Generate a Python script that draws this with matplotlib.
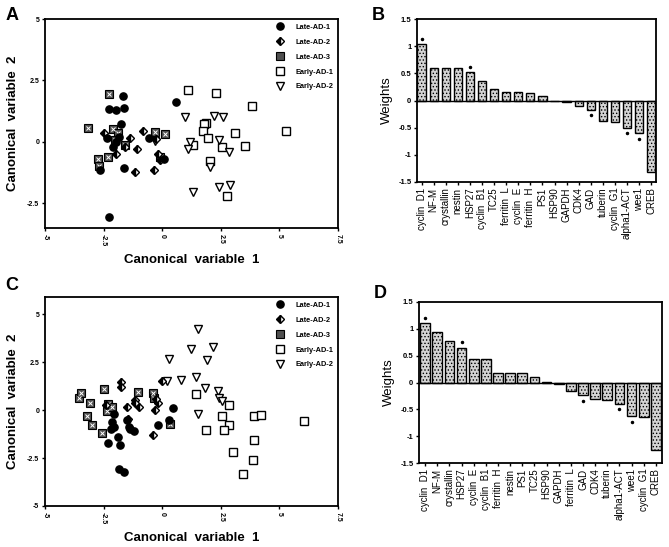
import numpy as np
import matplotlib
matplotlib.use("Agg")
import matplotlib.pyplot as plt

plt.rcParams['font.family'] = ['Liberation Sans', 'DejaVu Sans']

########### data: panel A ############
a_late1_x = [-1.69, -2.27, -1.99, -1.62, -1.77, -2.34, -1.99, -2.67, -1.62, -2.27, -0.57, 0.09, 0.61, -2.10, -1.85]
a_late1_y = [1.87, 1.34, 1.31, 1.39, 0.75, 0.14, 0.00, -1.16, -1.07, -3.05, 0.18, -0.68, 1.64, -0.20, 0.20]
a_late2_x = [-2.49, -0.81, -1.38, -1.59, -1.09, -1.95, -1.16, -0.36, -0.17, -0.10, -0.28]
a_late2_y = [0.37, 0.44, 0.18, -0.20, -0.27, -0.51, -1.22, -1.13, -0.51, -0.75, 0.10]
a_late3_x = [-2.26, -3.15, -2.09, -1.88, -0.31, 0.11, -2.02, -1.59, -2.30, -2.73, -2.68, -0.10]
a_late3_y = [1.95, 0.57, 0.51, 0.37, 0.41, 0.31, 0.07, -0.14, -0.61, -0.68, -0.96, -0.61]
a_early1_x = [1.08, 2.29, 3.85, 5.30, 1.86, 1.79, 1.75, 1.96, 1.32, 3.10, 2.53, 3.52, 2.03, 2.78]
a_early1_y = [2.12, 2.01, 1.46, 0.45, 0.79, 0.71, 0.44, 0.16, -0.14, 0.38, -0.20, -0.18, -0.78, -2.19]
a_early2_x = [0.97, 2.20, 2.60, 1.18, 1.11, 2.41, 2.86, 2.03, 1.32, 2.43, 2.91, -0.30]
a_early2_y = [1.02, 1.05, 1.02, 0.00, -0.30, 0.07, -0.41, -1.02, -2.02, -1.82, -1.75, 0.02]

########### data: panel C ############
c_late1_x = [-2.07, -2.14, -2.07, -2.19, -1.89, -2.31, -1.79, -1.50, -1.43, -1.36, -1.21, -1.86, -1.64, -0.19, 0.29, 0.47]
c_late1_y = [-0.18, -0.61, -0.88, -0.96, -1.40, -1.70, -1.84, -0.53, -0.88, -0.96, -1.11, -3.07, -3.21, -0.75, -0.53, 0.12]
c_late2_x = [-1.74, -1.76, -2.40, -1.50, -1.46, -1.17, -1.14, -1.00, -0.40, -0.29, -0.20, 0.00, -0.25]
c_late2_y = [1.49, 1.23, 0.26, 0.18, -0.44, 0.53, 0.39, 0.18, -1.32, 0.00, 0.39, 1.53, 0.60]
c_late3_x = [-3.57, -3.46, -3.07, -3.20, -3.00, -2.50, -2.31, -2.36, -2.14, -2.57, -1.03, -0.40, 0.33, -0.36]
c_late3_y = [0.65, 0.88, 0.39, -0.30, -0.75, 1.09, 0.30, -0.05, 0.14, -1.18, 0.96, 0.88, -0.70, 0.61]
c_early1_x = [1.43, 2.86, 2.57, 2.86, 2.64, 1.86, 3.93, 4.21, 6.07, 3.93, 3.04, 3.86, 3.43]
c_early1_y = [0.84, 0.26, -0.32, -0.79, -1.05, -1.02, -0.32, -0.23, -0.58, -1.58, -2.19, -2.58, -3.33]
c_early2_x = [1.53, 1.21, 2.16, 1.89, 0.31, 0.79, 0.19, 1.43, 1.81, 2.36, 2.43, 2.54, 1.53, -0.40]
c_early2_y = [4.21, 3.21, 3.30, 2.63, 2.67, 1.58, 1.53, 1.72, 1.18, 1.00, 0.61, 0.47, -0.21, 0.75]

########### data: panels B, D ############
b_genes = ['cyclin  D1', 'NF-M', 'crystallin', 'nestin', 'HSP27', 'cyclin  B1', 'TC25',
           'ferritin  L', 'cyclin  E', 'ferritin  H', 'PS1', 'HSP90', 'GAPDH', 'CDK4', 'GAD',
           'tuberin', 'cyclin  G1', 'alpha1-ACT', 'wee1', 'CREB']
b_weights = [1.04, 0.59, 0.59, 0.59, 0.52, 0.35, 0.22, 0.15, 0.15, 0.13, 0.09, -0.01, -0.02,
             -0.11, -0.17, -0.38, -0.39, -0.50, -0.60, -1.32]
b_signif = ['cyclin  D1', 'HSP27', 'GAD', 'alpha1-ACT', 'wee1']

d_genes = ['cyclin  D1', 'NF-M', 'crystallin', 'HSP27', 'cyclin  E', 'cyclin  B1', 'ferritin  H',
           'nestin', 'PS1', 'TC25', 'HSP90', 'GAPDH', 'ferritin  L', 'GAD', 'CDK4', 'tuberin',
           'alpha1-ACT', 'wee1', 'cyclin  G1', 'CREB']
d_weights = [1.11, 0.95, 0.77, 0.65, 0.44, 0.43, 0.18, 0.18, 0.17, 0.10, 0.005, -0.02, -0.15,
             -0.24, -0.31, -0.33, -0.40, -0.63, -0.64, -1.25]
d_signif = ['cyclin  D1', 'HSP27', 'GAD', 'alpha1-ACT', 'wee1']

groups = ['Late-AD-1', 'Late-AD-2', 'Late-AD-3', 'Early-AD-1', 'Early-AD-2']


def scatter_panel(ax, data, ylim, yticks):
    ms = 5.2
    (x1, y1), (x2, y2), (x3, y3), (x4, y4), (x5, y5) = data
    ax.plot(x4, y4, 's', ms=ms, mfc='white', mec='black', mew=1.0, ls='none', label=groups[3])
    ax.plot(x5, y5, 'v', ms=ms + 0.6, mfc='white', mec='black', mew=1.0, ls='none', label=groups[4])
    ax.plot(x3, y3, 's', ms=ms, mfc='#505050', mec='black', mew=0.8, ls='none', label=groups[2])
    ax.plot(x3, y3, 'x', ms=2.6, mec='white', mew=0.7, ls='none')
    ax.plot(x2, y2, 'D', ms=ms - 0.8, fillstyle='left', mfc='black', mfcalt='white',
            mec='black', mew=1.0, ls='none', label=groups[1])
    ax.plot(x1, y1, 'o', ms=ms, mfc='black', mec='black', ls='none', label=groups[0])
    ax.set_xlim(-5, 7.5)
    ax.set_ylim(*ylim)
    ax.set_xticks([-5, -2.5, 0, 2.5, 5, 7.5])
    ax.set_xticklabels(['-5', '-2.5', '0', '2.5', '5', '7.5'], rotation=270, fontsize=5, fontweight='bold')
    ax.set_yticks(yticks)
    ax.set_yticklabels([('%g' % t) for t in yticks], fontsize=5, fontweight='bold')
    ax.tick_params(length=2, width=1, pad=2)
    for s in ax.spines.values():
        s.set_linewidth(1.3)
    ax.set_xlabel('Canonical  variable  1', fontsize=9.5, fontweight='bold', labelpad=6)
    ax.set_ylabel('Canonical  variable  2', fontsize=9.5, fontweight='bold', labelpad=6)
    h, l = ax.get_legend_handles_labels()
    order = [l.index(g) for g in groups]
    ax.legend([h[i] for i in order], [l[i] for i in order], loc='upper right', frameon=False,
              prop={'size': 5.3, 'weight': 'bold'}, labelspacing=1.05, handletextpad=1.6,
              borderaxespad=0.25, handlelength=1.0)


def bar_panel(ax, genes, weights, signif, width, xlim):
    x = np.arange(len(genes))
    ax.bar(x, weights, width=width, color='#d4d4d4', edgecolor='black', linewidth=1.0,
           hatch='.....')
    ax.axhline(0, color='black', lw=1.0)
    for g in signif:
        i = genes.index(g)
        w = weights[i]
        off = 0.1 if w > 0 else -0.1
        ax.plot(i, w + off, marker='o', ms=1.5, color='black')
    ax.set_xlim(*xlim)
    ax.set_ylim(-1.5, 1.5)
    ax.set_xticks(x)
    ax.set_xticklabels(genes, rotation=90, fontsize=7)
    ax.set_yticks([-1.5, -1, -0.5, 0, 0.5, 1, 1.5])
    ax.set_yticklabels(['-1.5', '-1', '-0.5', '0', '0.5', '1', '1.5'], fontsize=5.5, fontweight='bold')
    ax.tick_params(axis='x', length=2, width=1, pad=2)
    ax.tick_params(axis='y', length=2, width=1, pad=2)
    for s in ax.spines.values():
        s.set_linewidth(1.3)
    ax.set_ylabel('Weights', fontsize=9.5, labelpad=4)


plt.rcParams['hatch.linewidth'] = 0.6
fig = plt.figure(figsize=(6.69, 5.47), dpi=100)

axA = fig.add_axes([45 / 669, 1 - 228 / 547, 293 / 669, 209 / 547])
scatter_panel(axA, [(a_late1_x, a_late1_y), (a_late2_x, a_late2_y), (a_late3_x, a_late3_y),
                    (a_early1_x, a_early1_y), (a_early2_x, a_early2_y)],
              (-3.5, 5), [-2.5, 0, 2.5, 5])

axC = fig.add_axes([45 / 669, 1 - 506 / 547, 293 / 669, 209 / 547])
scatter_panel(axC, [(c_late1_x, c_late1_y), (c_late2_x, c_late2_y), (c_late3_x, c_late3_y),
                    (c_early1_x, c_early1_y), (c_early2_x, c_early2_y)],
              (-5, 5.9), [-5, -2.5, 0, 2.5, 5])

axB = fig.add_axes([417 / 669, 1 - 182 / 547, 239 / 669, 163 / 547])
bar_panel(axB, b_genes, b_weights, b_signif, 0.68, (-0.38, 19.4))

axD = fig.add_axes([419 / 669, 1 - 463 / 547, 243 / 669, 161 / 547])
bar_panel(axD, d_genes, d_weights, d_signif, 0.8, (-0.5, 19.5))

fig.text(12 / 669, 1 - 15 / 547, 'A', fontsize=13, fontweight='bold', va='center', ha='center')
fig.text(378 / 669, 1 - 15 / 547, 'B', fontsize=13, fontweight='bold', va='center', ha='center')
fig.text(12 / 669, 1 - 285 / 547, 'C', fontsize=13, fontweight='bold', va='center', ha='center')
fig.text(380 / 669, 1 - 293 / 547, 'D', fontsize=13, fontweight='bold', va='center', ha='center')

fig.savefig('out.png', dpi=100)
